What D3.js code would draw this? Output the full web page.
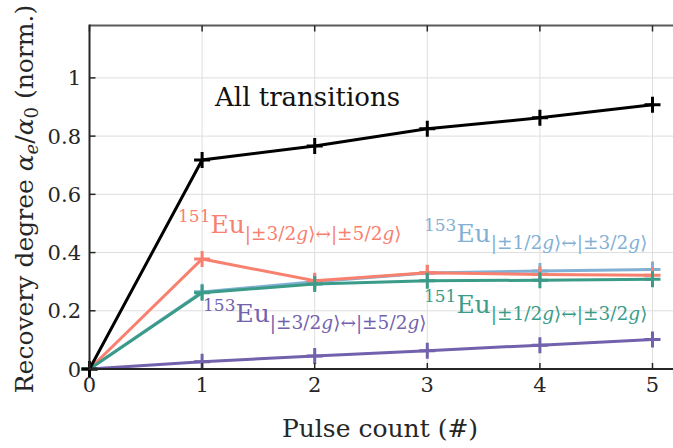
<!DOCTYPE html>
<html>
<head>
<meta charset="utf-8">
<script src="https://cdn.jsdelivr.net/npm/d3@7"></script>
</head>
<body style="margin:0">
<div id="chart"></div>
<script>
// pulse counts
var pulses = [0, 1, 2, 3, 4, 5];

// recovery degree per transition (normalised)
var allTransitions = [0, 0.718, 0.766, 0.825, 0.863, 0.908];
var eu151_35 = [0, 0.378, 0.303, 0.331, 0.325, 0.322];
var eu153_13 = [0, 0.265, 0.300, 0.330, 0.337, 0.342];
var eu151_13 = [0, 0.262, 0.292, 0.303, 0.305, 0.308];
var eu153_35 = [0, 0.025, 0.045, 0.063, 0.082, 0.101];

var xTicks = [0, 1, 2, 3, 4, 5];
var yTicks = [0, 0.2, 0.4, 0.6, 0.8, 1];
var yTickLabels = ['0', '0.2', '0.4', '0.6', '0.8', '1'];

var W = 673, H = 448;
var margin = {left: 89.5, top: 25.5, bottom: 79};
var fontName = '"DejaVu Serif", "Liberation Serif", serif';

var x = d3.scaleLinear().domain([0, 5.2]).range([margin.left, margin.left + 5.2 * 112.6]);
var y = d3.scaleLinear().domain([0, 1.18]).range([H - margin.bottom, margin.top]);

var svg = d3.select('#chart').append('svg')
  .attr('width', W)
  .attr('height', H)
  .attr('font-family', 'DejaVu Serif, serif');

// grid
svg.append('g').selectAll('line.gx')
  .data(xTicks)
  .enter().append('line')
  .attr('x1', d => x(d)).attr('x2', d => x(d))
  .attr('y1', y(0)).attr('y2', y(1.18))
  .style('stroke', '#dedede').style('stroke-width', 1);

svg.append('g').selectAll('line.gy')
  .data(yTicks)
  .enter().append('line')
  .attr('x1', x(0)).attr('x2', W)
  .attr('y1', d => y(d)).attr('y2', d => y(d))
  .style('stroke', '#dedede').style('stroke-width', 1);

// series, drawn in the order of the original
var series = [
  {values: eu153_35, color: '#7262ad'},
  {values: eu153_13, color: '#82b0d4'},
  {values: eu151_35, color: '#f8806f'},
  {values: eu151_13, color: '#3a9c88'},
  {values: allTransitions, color: '#000000'}
];

var line = d3.line()
  .x((d, i) => x(pulses[i]))
  .y(d => y(d));

var group = svg.append('g').selectAll('g.series')
  .data(series)
  .enter().append('g')
  .attr('class', 'series');

group.append('path')
  .attr('d', d => line(d.values))
  .style('fill', 'none')
  .style('stroke', d => d.color)
  .style('stroke-width', 3);

group.selectAll('path.mark')
  .data(d => d.values.map((v, i) => ({v: v, p: pulses[i], color: d.color})))
  .enter().append('path')
  .attr('class', 'mark')
  .attr('d', d => {
    var cx = x(d.p), cy = y(d.v), s = 8;
    return 'M' + (cx - s) + ',' + cy + 'H' + (cx + s) + 'M' + cx + ',' + (cy - s) + 'V' + (cy + s);
  })
  .style('stroke', d => d.color)
  .style('stroke-width', 3);

// axes box
var axisColor = '#262626';
svg.append('line')
  .attr('x1', x(0)).attr('x2', W).attr('y1', y(0)).attr('y2', y(0))
  .style('stroke', axisColor).style('stroke-width', 2);
svg.append('line')
  .attr('x1', x(0)).attr('x2', W).attr('y1', y(1.18)).attr('y2', y(1.18))
  .style('stroke', '#5a5a5a').style('stroke-width', 2);
svg.append('line')
  .attr('x1', x(0)).attr('x2', x(0)).attr('y1', y(0) + 1).attr('y2', y(1.18) - 1)
  .style('stroke', axisColor).style('stroke-width', 2);

// ticks (inside)
svg.append('g').selectAll('line')
  .data(xTicks)
  .enter().append('line')
  .attr('x1', d => x(d)).attr('x2', d => x(d))
  .attr('y1', y(0)).attr('y2', y(0) - 6)
  .style('stroke', axisColor).style('stroke-width', 1.5);
svg.append('g').selectAll('line')
  .data(xTicks)
  .enter().append('line')
  .attr('x1', d => x(d)).attr('x2', d => x(d))
  .attr('y1', y(1.18)).attr('y2', y(1.18) + 6)
  .style('stroke', axisColor).style('stroke-width', 1.5);
svg.append('g').selectAll('line')
  .data(yTicks)
  .enter().append('line')
  .attr('x1', x(0)).attr('x2', x(0) + 6)
  .attr('y1', d => y(d)).attr('y2', d => y(d))
  .style('stroke', axisColor).style('stroke-width', 1.5);

// tick labels
svg.append('g').selectAll('text')
  .data(xTicks)
  .enter().append('text')
  .attr('x', d => x(d))
  .attr('y', 392)
  .attr('text-anchor', 'middle')
  .style('font-family', fontName)
  .style('font-size', '21px')
  .style('fill', axisColor)
  .text(d => d);
svg.append('g').selectAll('text')
  .data(yTicks)
  .enter().append('text')
  .attr('x', 81)
  .attr('y', d => y(d) + 7.5)
  .attr('text-anchor', 'end')
  .style('font-family', fontName)
  .style('font-size', '21px')
  .style('fill', axisColor)
  .text((d, i) => yTickLabels[i]);

// axis titles
svg.append('text')
  .attr('x', x(2.58))
  .attr('y', 437)
  .attr('text-anchor', 'middle')
  .style('font-family', fontName)
  .style('font-size', '25px')
  .style('fill', axisColor)
  .text('Pulse count (#)');

var yl = svg.append('text')
  .attr('transform', 'translate(33,199) rotate(-90)')
  .attr('text-anchor', 'middle')
  .style('font-family', fontName)
  .style('font-size', '25px')
  .style('fill', axisColor);
yl.append('tspan').text('Recovery degree ');
yl.append('tspan').style('font-style', 'italic').text('\u03b1');
yl.append('tspan').style('font-style', 'italic').style('font-size', '18px').attr('dy', 5).text('e');
yl.append('tspan').attr('dy', -5).text('/');
yl.append('tspan').style('font-style', 'italic').text('\u03b1');
yl.append('tspan').style('font-size', '18px').attr('dy', 5).text('0');
yl.append('tspan').attr('dy', -5).text(' (norm.)');

// annotations
svg.append('text')
  .attr('x', x(1.115))
  .attr('y', y(0.904))
  .style('font-family', fontName)
  .style('font-size', '26px')
  .style('fill', '#111')
  .text('All transitions');

var notes = [
  {iso: '151', a: '3/2', b: '5/2', px: 0.786, py: 0.467, color: '#f8806f'},
  {iso: '153', a: '1/2', b: '3/2', px: 2.97, py: 0.436, color: '#82b0d4'},
  {iso: '151', a: '1/2', b: '3/2', px: 2.97, py: 0.192, color: '#3a9c88'},
  {iso: '153', a: '3/2', b: '5/2', px: 1.008, py: 0.161, color: '#7262ad'}
];

notes.forEach(function(n) {
  var t = svg.append('text')
    .attr('x', x(n.px))
    .attr('y', y(n.py))
    .style('font-family', fontName)
    .style('fill', n.color);
  t.append('tspan').style('font-size', '17px').attr('dy', -11).text(n.iso);
  t.append('tspan').style('font-size', '25px').attr('dy', 11).text('Eu');
  t.append('tspan').style('font-size', '18.5px').attr('dy', 7).text('|\u00b1' + n.a);
  t.append('tspan').style('font-size', '18.5px').style('font-style', 'italic').text('g');
  t.append('tspan').style('font-size', '18.5px').text('\u27e9\u2194|\u00b1' + n.b);
  t.append('tspan').style('font-size', '18.5px').style('font-style', 'italic').text('g');
  t.append('tspan').style('font-size', '18.5px').text('\u27e9');
});
</script>
</body>
</html>
